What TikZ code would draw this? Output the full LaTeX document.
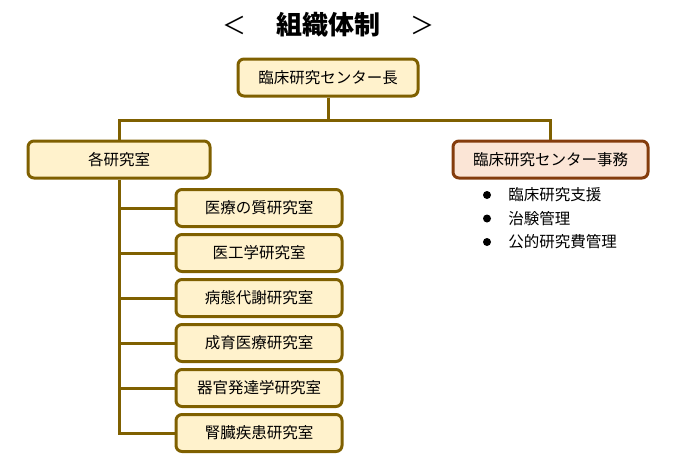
\documentclass[tikz,border=0pt]{standalone}
\usepackage{fontspec}
\setmainfont{Noto Sans CJK JP}
\usetikzlibrary{positioning}
\definecolor{boxfill}{HTML}{FFF2CC}
\definecolor{boxline}{HTML}{7F6000}
\definecolor{officefill}{HTML}{FBE5D6}
\definecolor{officeline}{HTML}{843C0C}
\tikzset{%
  unitbox/.style={draw=boxline,fill=boxfill,line width=3pt,rounded corners=6pt,
    minimum height=37pt,inner sep=0pt,font=\fontsize{15.5}{18}\selectfont},
  labbox/.style={unitbox,minimum width=166pt},
  officebox/.style={unitbox,draw=officeline,fill=officefill,minimum width=195pt},
  conn/.style={draw=boxline,line width=3pt},
  duty/.style={anchor=west,inner sep=0pt,font=\fontsize{15.5}{18}\selectfont},
  dot/.style={circle,fill=black,inner sep=0pt,minimum size=8pt}
}

\begin{document}
\begin{tikzpicture}[x=1pt,y=-1pt]

%% page frame (pixels of the reference)

\useasboundingbox (0,0) rectangle (697,466);

%% title

\node[font=\fontsize{24}{28}\selectfont] (lt) at (234,25) {＜};
\node[font=\fontsize{26}{30}\selectfont\bfseries] (title) at (328,25) {組織体制};
\node[font=\fontsize{24}{28}\selectfont] (gt) at (422,25) {＞};

%% boxes

\node[unitbox,minimum width=180pt] (chief) at (328,77.5) {臨床研究センター長};
\node[unitbox,minimum width=182pt] (labs) at (119,159.5) {各研究室};
\node[officebox] (office) at (550.5,159.5) {臨床研究センター事務};

\node[labbox] (lab1) at (259,208) {医療の質研究室};
\node[labbox,below=5pt of lab1] (lab2) {医工学研究室};
\node[labbox,below=5pt of lab2] (lab3) {病態代謝研究室};
\node[labbox,below=5pt of lab3] (lab4) {成育医療研究室};
\node[labbox,below=5pt of lab4] (lab5) {器官発達学研究室};
\node[labbox,below=5pt of lab5] (lab6) {腎臓疾患研究室};

%% office duties

\node[dot] (d1) at (487,195) {};
\node[dot] (d2) at (487,218.5) {};
\node[dot] (d3) at (487,242) {};
\node[duty,right=17pt of d1] (t1) {臨床研究支援};
\node[duty,right=17pt of d2] (t2) {治験管理};
\node[duty,right=17pt of d3] (t3) {公的研究費管理};

%% connectors

\coordinate (bus) at (chief.south |- 0,120);
\draw[conn] (chief.south) -- (bus);
\draw[conn] (labs.north) |- (bus) -| (office.north);
\draw[conn] (labs.south) |- (lab6.west);
\draw[conn] (labs.south |- lab1) -- (lab1.west);
\draw[conn] (labs.south |- lab2) -- (lab2.west);
\draw[conn] (labs.south |- lab3) -- (lab3.west);
\draw[conn] (labs.south |- lab4) -- (lab4.west);
\draw[conn] (labs.south |- lab5) -- (lab5.west);

\end{tikzpicture}
\end{document}
